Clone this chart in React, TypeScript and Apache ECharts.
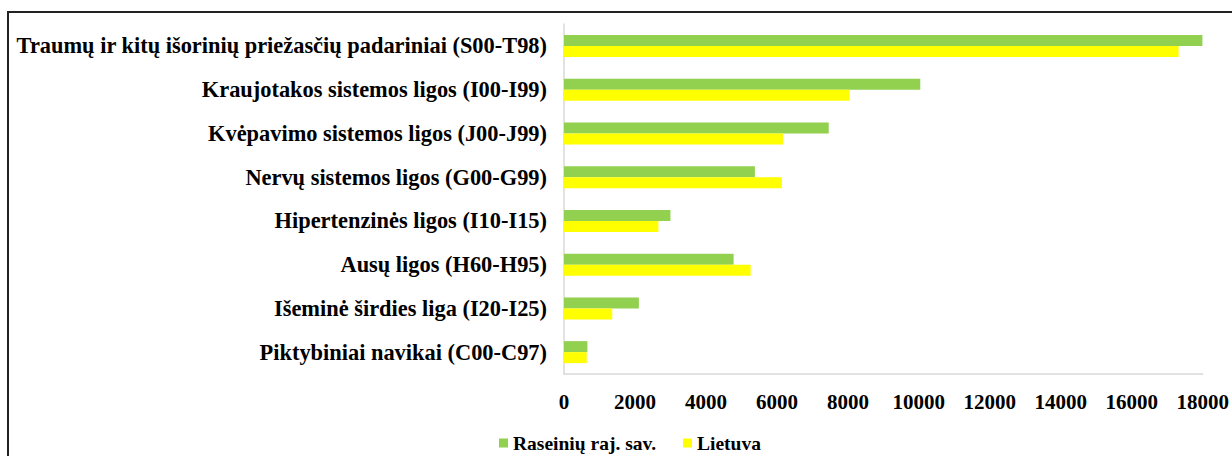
import React, { useEffect, useRef } from "react";
import * as echarts from "echarts";

const categories = [
  "Traumų ir kitų išorinių priežasčių padariniai (S00-T98)",
  "Kraujotakos sistemos ligos (I00-I99)",
  "Kvėpavimo sistemos ligos (J00-J99)",
  "Nervų sistemos ligos (G00-G99)",
  "Hipertenzinės ligos (I10-I15)",
  "Ausų ligos (H60-H95)",
  "Išeminė širdies liga (I20-I25)",
  "Piktybiniai navikai (C00-C97)",
];

const raseiniai = [17990, 10040, 7460, 5380, 3000, 4780, 2110, 660];
const lietuva = [17320, 8050, 6170, 6140, 2660, 5260, 1360, 640];

const xTicksMax = 18000;
const xTickStep = 2000;

const FONT = "'Liberation Serif', 'Times New Roman', serif";

export default function App() {
  const ref = useRef<HTMLDivElement>(null);
  useEffect(() => {
    if (!ref.current) return;
    const chart = echarts.init(ref.current, null, { renderer: "svg" });
    chart.setOption({
      animation: false,
      backgroundColor: "#ffffff",
      graphic: [
        {
          type: "rect",
          shape: { x: 8, y: 12, width: 1240, height: 470 },
          style: { fill: "none", stroke: "#222", lineWidth: 2 },
          silent: true,
          z: 100,
        },
      ],
      grid: { left: 564, right: 29, top: 24, bottom: 82, containLabel: false },
      legend: {
        left: 499,
        top: 433,
        padding: 0,
        itemWidth: 9,
        itemHeight: 9,
        itemGap: 27,
        icon: "rect",
        textStyle: { fontFamily: FONT, fontWeight: "bold", fontSize: 19.5, color: "#000" },
        data: ["Raseinių raj. sav.", "Lietuva"],
      },
      xAxis: {
        type: "value",
        min: 0,
        max: xTicksMax,
        interval: xTickStep,
        axisLine: { show: true, lineStyle: { color: "#d9d9d9", width: 1.5 } },
        axisTick: { show: false },
        splitLine: { show: false },
        axisLabel: {
          margin: 17,
          fontFamily: FONT,
          fontWeight: "bold",
          fontSize: 21,
          color: "#000",
          formatter: (v: number) => String(v),
        },
      },
      yAxis: {
        type: "category",
        inverse: true,
        data: categories,
        axisLine: { show: true, lineStyle: { color: "#d9d9d9", width: 1.5 } },
        axisTick: { show: false },
        axisLabel: {
          margin: 17,
          fontFamily: FONT,
          fontWeight: "bold",
          fontSize: 22.4,
          color: "#000",
        },
      },
      series: [
        {
          name: "Raseinių raj. sav.",
          type: "bar",
          data: raseiniai,
          barWidth: 11,
          barGap: "0%",
          itemStyle: { color: "#92D050" },
        },
        {
          name: "Lietuva",
          type: "bar",
          data: lietuva,
          barWidth: 11,
          barGap: "0%",
          itemStyle: { color: "#FFFF00" },
        },
      ],
    });
    return () => chart.dispose();
  }, []);
  return (
    <div
      ref={ref}
      style={{ position: "fixed", left: 0, top: 0, width: 1232, height: 456 }}
    />
  );
}
